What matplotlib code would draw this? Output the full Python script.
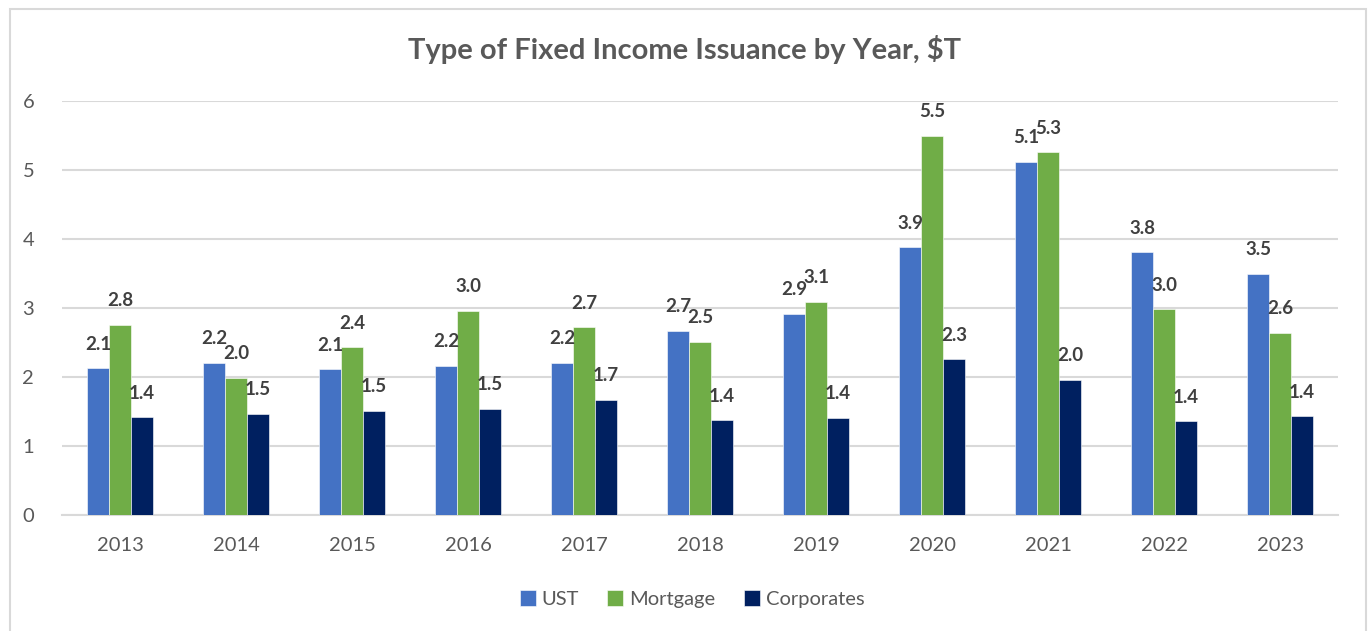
import matplotlib
matplotlib.use("Agg")
import matplotlib.pyplot as plt
import numpy as np
from matplotlib.patches import Rectangle

years = ["2013", "2014", "2015", "2016", "2017", "2018", "2019", "2020", "2021", "2022", "2023"]
ust = [2.13, 2.21, 2.11, 2.16, 2.21, 2.67, 2.92, 3.88, 5.12, 3.81, 3.50]
mortgage = [2.76, 1.99, 2.43, 2.96, 2.72, 2.51, 3.09, 5.50, 5.26, 2.98, 2.64]
corporates = [1.42, 1.47, 1.51, 1.54, 1.67, 1.37, 1.41, 2.26, 1.96, 1.36, 1.43]
series = [("UST", ust, "#4472C4"), ("Mortgage", mortgage, "#70AD47"), ("Corporates", corporates, "#002060")]

plt.rcParams['font.family'] = ['Lato', 'DejaVu Sans']

W, H = 1368, 631
fig = plt.figure(figsize=(W / 100, H / 100), dpi=100)
fig.patch.set_facecolor("white")
fig.add_artist(Rectangle((10 / W, -0.05), (1366 - 10) / W, 1 - 9 / H + 0.05,
                         transform=fig.transFigure, fill=False, edgecolor="#d9d9d9", linewidth=1.5))

ax = fig.add_axes([62 / W, 1 - 515 / H, (1338 - 62) / W, (515 - 101) / H])
x = np.arange(len(years))
bw = 0.19
for i, (name, vals, col) in enumerate(series):
    xs = x + (i - 1) * bw
    ax.bar(xs, vals, width=bw, color=col, label=name, zorder=3, edgecolor="white", linewidth=0.4)
    for xi, v in zip(xs, vals):
        ax.annotate(f"{v:.1f}", (xi, v), xytext=(0, 24), textcoords="offset pixels",
                    ha="center", va="center", fontsize=13.5, fontweight="bold", color="#404040", zorder=4)

ax.set_xlim(-0.5, len(years) - 0.5)
ax.set_ylim(0, 6)
ax.set_yticks(range(0, 7))
ax.set_xticks(x)
ax.set_xticklabels(years)
ax.tick_params(axis="both", length=0, labelsize=14.5, labelcolor="#595959")
ax.tick_params(axis="x", pad=16)
ax.tick_params(axis="y", pad=20)
ax.grid(axis="y", color="#d9d9d9", linewidth=1.5, zorder=0)
for s in ["top", "right", "left"]:
    ax.spines[s].set_visible(False)
ax.spines["bottom"].set_color("#d9d9d9")
ax.spines["bottom"].set_linewidth(1.5)

fig.text(684 / W, 1 - 50 / H, "Type of Fixed Income Issuance by Year, $T", ha="center", va="center",
         fontsize=21, fontweight="bold", color="#595959")

fig.legend(loc="center", bbox_to_anchor=(692 / W, 1 - 599 / H), ncol=3, frameon=False,
           fontsize=14.5, labelcolor="#595959", handlelength=0.8, handleheight=0.8,
           handletextpad=0.3, columnspacing=1.4)

fig.savefig("out.png", dpi=100, facecolor="white")
